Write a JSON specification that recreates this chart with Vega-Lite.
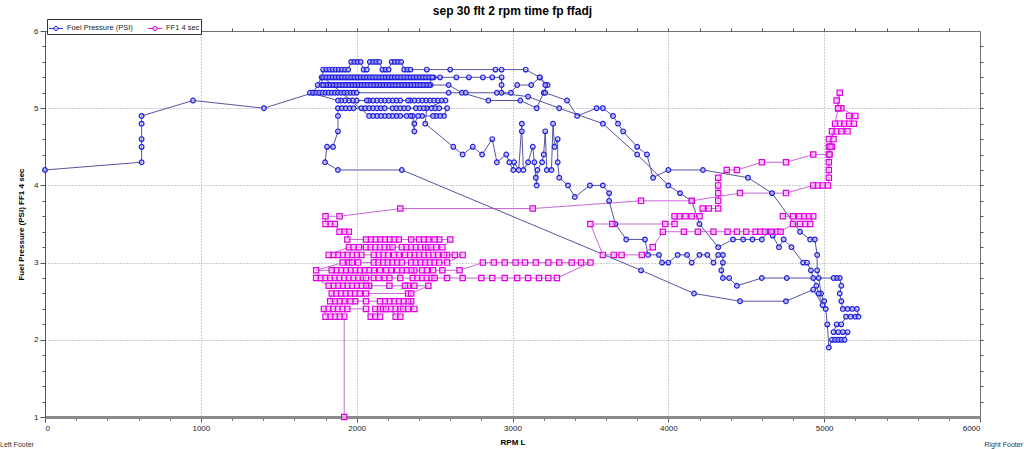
{
"$schema":"https://vega.github.io/schema/vega-lite/v6.json",
"width":935,"height":386,"autosize":"none",
"padding":{"left":45,"top":31,"right":44,"bottom":32},
"background":"white",
"config":{"font":"Liberation Sans","view":{"stroke":"#707070","strokeWidth":1}},
"title":{"text":"sep 30 flt 2 rpm  time fp ffadj","fontSize":12,"fontWeight":"bold","color":"#000","offset":1},
"datasets":{
"fp":[
{"x":0,"y":4.2},{"x":620,"y":4.3},{"x":620,"y":4.5},{"x":620,"y":4.6},{"x":620,"y":4.8},{"x":620,"y":4.9},{"x":950,"y":5.1},{"x":1405,"y":5.0},{"x":1720,"y":5.2},{"x":1750,"y":5.3},
{"x":1775,"y":5.4},{"x":1795,"y":5.4},{"x":1815,"y":5.4},{"x":1835,"y":5.4},{"x":1855,"y":5.4},{"x":1875,"y":5.4},{"x":1895,"y":5.4},{"x":1915,"y":5.4},{"x":1935,"y":5.4},{"x":1955,"y":5.4},{"x":1975,"y":5.4},{"x":1995,"y":5.4},{"x":2015,"y":5.4},{"x":2035,"y":5.4},{"x":2055,"y":5.4},{"x":2075,"y":5.4},{"x":2095,"y":5.4},{"x":2115,"y":5.4},{"x":2135,"y":5.4},{"x":2155,"y":5.4},{"x":2175,"y":5.4},{"x":2195,"y":5.4},{"x":2215,"y":5.4},{"x":2235,"y":5.4},{"x":2255,"y":5.4},{"x":2275,"y":5.4},{"x":2295,"y":5.4},{"x":2315,"y":5.4},{"x":2335,"y":5.4},{"x":2355,"y":5.4},{"x":2375,"y":5.4},{"x":2395,"y":5.4},{"x":2415,"y":5.4},{"x":2435,"y":5.4},{"x":2455,"y":5.4},{"x":2475,"y":5.4},{"x":2495,"y":5.4},
{"x":2535,"y":5.4},{"x":2640,"y":5.4},{"x":2720,"y":5.4},{"x":2810,"y":5.4},{"x":2870,"y":5.4},{"x":2930,"y":5.4},{"x":2930,"y":5.3},{"x":2930,"y":5.2},{"x":2990,"y":5.2},{"x":3030,"y":5.3},{"x":3120,"y":5.3},{"x":3175,"y":5.4},{"x":3225,"y":5.3},{"x":3200,"y":5.2},{"x":3155,"y":5.0},{"x":3050,"y":5.1},{"x":2845,"y":5.1},{"x":2675,"y":5.2},{"x":2590,"y":5.3},
{"x":2475,"y":5.3},{"x":2455,"y":5.3},{"x":2435,"y":5.3},{"x":2415,"y":5.3},{"x":2395,"y":5.3},{"x":2375,"y":5.3},{"x":2355,"y":5.3},{"x":2335,"y":5.3},{"x":2315,"y":5.3},{"x":2295,"y":5.3},{"x":2275,"y":5.3},{"x":2255,"y":5.3},{"x":2235,"y":5.3},{"x":2215,"y":5.3},{"x":2195,"y":5.3},{"x":2175,"y":5.3},{"x":2155,"y":5.3},{"x":2135,"y":5.3},{"x":2115,"y":5.3},{"x":2095,"y":5.3},{"x":2075,"y":5.3},{"x":2055,"y":5.3},{"x":2035,"y":5.3},{"x":2015,"y":5.3},{"x":1995,"y":5.3},{"x":1975,"y":5.3},{"x":1955,"y":5.3},{"x":1935,"y":5.3},{"x":1915,"y":5.3},{"x":1895,"y":5.3},{"x":1875,"y":5.3},{"x":1855,"y":5.3},{"x":1835,"y":5.3},{"x":1815,"y":5.3},{"x":1795,"y":5.3},{"x":1775,"y":5.3},
{"x":1785,"y":5.5},{"x":1805,"y":5.5},{"x":1825,"y":5.5},{"x":1845,"y":5.5},{"x":1865,"y":5.5},{"x":1885,"y":5.5},{"x":1905,"y":5.5},{"x":1925,"y":5.5},{"x":1945,"y":5.5},{"x":1965,"y":5.6},{"x":1985,"y":5.6},{"x":2005,"y":5.6},{"x":2025,"y":5.6},{"x":2045,"y":5.5},{"x":2065,"y":5.5},{"x":2085,"y":5.6},{"x":2105,"y":5.6},{"x":2125,"y":5.6},{"x":2145,"y":5.6},{"x":2165,"y":5.5},{"x":2185,"y":5.5},{"x":2205,"y":5.5},{"x":2225,"y":5.6},{"x":2245,"y":5.6},{"x":2265,"y":5.6},{"x":2285,"y":5.6},{"x":2305,"y":5.5},{"x":2325,"y":5.5},{"x":2345,"y":5.5},{"x":2450,"y":5.5},
{"x":2600,"y":5.5},{"x":2890,"y":5.5},{"x":2930,"y":5.5},{"x":3085,"y":5.5},{"x":3175,"y":5.4},{"x":3210,"y":5.3},{"x":3210,"y":5.2},{"x":3350,"y":5.1},{"x":3415,"y":4.9},{"x":3540,"y":5.0},{"x":3580,"y":5.0},{"x":3645,"y":4.9},{"x":3677,"y":4.8},{"x":3710,"y":4.7},{"x":3800,"y":4.5},{"x":3863,"y":4.4},{"x":3902,"y":4.1},{"x":4000,"y":4.2},{"x":4222,"y":4.2},{"x":4511,"y":4.1},{"x":4665,"y":3.9},{"x":4845,"y":3.4},{"x":4910,"y":3.3},{"x":4940,"y":3.3},{"x":4955,"y":3.1},{"x":4955,"y":2.9},{"x":4965,"y":2.8},{"x":4980,"y":2.6},{"x":5000,"y":2.5},{"x":5010,"y":2.4},{"x":5020,"y":2.2},{"x":5030,"y":1.9},
{"x":5050,"y":2.0},{"x":5070,"y":2.0},{"x":5090,"y":2.0},{"x":5110,"y":2.0},{"x":5130,"y":2.0},{"x":5150,"y":2.1},{"x":5120,"y":2.1},{"x":5090,"y":2.1},{"x":5060,"y":2.1},{"x":5080,"y":2.2},{"x":5110,"y":2.2},{"x":5140,"y":2.3},{"x":5170,"y":2.3},{"x":5200,"y":2.3},{"x":5220,"y":2.3},{"x":5210,"y":2.4},{"x":5180,"y":2.4},{"x":5150,"y":2.4},{"x":5120,"y":2.4},{"x":5110,"y":2.5},{"x":5100,"y":2.6},{"x":5110,"y":2.7},{"x":5100,"y":2.8},{"x":5080,"y":2.8},{"x":5060,"y":2.8},
{"x":4760,"y":2.8},{"x":4600,"y":2.8},{"x":4440,"y":2.7},{"x":4390,"y":2.8},{"x":4350,"y":2.8},{"x":4340,"y":2.9},{"x":4350,"y":3.0},{"x":4350,"y":3.1},{"x":4320,"y":3.1},{"x":4290,"y":3.0},{"x":4250,"y":3.1},{"x":4200,"y":3.1},{"x":4150,"y":3.0},{"x":4120,"y":3.1},{"x":4060,"y":3.1},{"x":4000,"y":3.0},{"x":3960,"y":3.0},{"x":3940,"y":3.1},{"x":3870,"y":3.1},{"x":3850,"y":3.3},{"x":3730,"y":3.3},{"x":3660,"y":3.5},{"x":3620,"y":3.8},{"x":3620,"y":3.9},{"x":3580,"y":4.0},{"x":3497,"y":4.0},{"x":3400,"y":3.85},{"x":3356,"y":4.0},
{"x":3300,"y":4.1},{"x":3290,"y":4.3},{"x":3290,"y":4.6},{"x":3270,"y":4.5},{"x":3260,"y":4.8},{"x":3250,"y":4.2},{"x":3220,"y":4.2},{"x":3210,"y":4.7},{"x":3200,"y":4.4},{"x":3190,"y":4.3},{"x":3160,"y":4.2},{"x":3155,"y":4.0},{"x":3150,"y":4.1},{"x":3140,"y":4.3},{"x":3130,"y":4.5},{"x":3100,"y":4.3},{"x":3070,"y":4.2},{"x":3060,"y":4.7},{"x":3060,"y":4.8},{"x":3040,"y":4.2},{"x":3010,"y":4.3},{"x":3005,"y":4.2},{"x":2980,"y":4.3},{"x":2960,"y":4.4},{"x":2900,"y":4.3},{"x":2870,"y":4.6},{"x":2805,"y":4.4},{"x":2745,"y":4.5},{"x":2680,"y":4.4},{"x":2620,"y":4.5},{"x":2440,"y":4.8},{"x":2450,"y":5.0},
{"x":2570,"y":5.1},{"x":2545,"y":5.1},{"x":2520,"y":5.1},{"x":2495,"y":5.1},{"x":2470,"y":5.1},{"x":2445,"y":5.1},{"x":2420,"y":5.1},{"x":2395,"y":5.1},{"x":2370,"y":5.1},{"x":2345,"y":5.1},{"x":2330,"y":5.1},{"x":2280,"y":5.1},{"x":2255,"y":5.1},{"x":2230,"y":5.1},{"x":2205,"y":5.1},{"x":2180,"y":5.1},{"x":2155,"y":5.1},{"x":2130,"y":5.1},{"x":2105,"y":5.1},{"x":2080,"y":5.1},{"x":2065,"y":5.1},{"x":2000,"y":5.1},{"x":1975,"y":5.1},{"x":1950,"y":5.1},{"x":1925,"y":5.1},{"x":1900,"y":5.1},{"x":1880,"y":5.1},
{"x":1700,"y":5.2},{"x":1720,"y":5.2},{"x":1740,"y":5.2},{"x":1760,"y":5.2},{"x":1780,"y":5.2},{"x":1800,"y":5.2},{"x":1820,"y":5.2},{"x":1840,"y":5.2},{"x":1860,"y":5.2},{"x":1880,"y":5.2},{"x":1900,"y":5.2},{"x":1920,"y":5.2},{"x":1940,"y":5.2},{"x":1960,"y":5.2},{"x":1980,"y":5.2},{"x":2000,"y":5.2},
{"x":2590,"y":5.2},{"x":2700,"y":5.2},{"x":2900,"y":5.2},{"x":3100,"y":5.15},{"x":3300,"y":5.0},{"x":3580,"y":4.8},{"x":3800,"y":4.4},{"x":4000,"y":4.0},{"x":4075,"y":3.9},{"x":4150,"y":3.8},{"x":4200,"y":3.5},{"x":4320,"y":3.2},{"x":4415,"y":3.3},{"x":4480,"y":3.3},{"x":4540,"y":3.3},{"x":4600,"y":3.3},{"x":4640,"y":3.4},{"x":4665,"y":3.4},{"x":4670,"y":3.35},{"x":4710,"y":3.2},{"x":4740,"y":3.3},{"x":4790,"y":3.2},{"x":4865,"y":3.0},{"x":4890,"y":3.0},{"x":4915,"y":2.9},{"x":4930,"y":2.8},{"x":4950,"y":2.7},{"x":4965,"y":2.6},{"x":4990,"y":2.45},
{"x":4930,"y":2.65},{"x":4755,"y":2.5},{"x":4460,"y":2.5},{"x":4165,"y":2.6},{"x":3825,"y":2.9},{"x":2290,"y":4.2},{"x":1880,"y":4.2},{"x":1797,"y":4.3},{"x":1810,"y":4.5},{"x":1848,"y":4.5},{"x":1880,"y":4.7},{"x":1880,"y":4.9},
{"x":1880,"y":5.0},{"x":1905,"y":5.0},{"x":1930,"y":5.0},{"x":1955,"y":5.0},{"x":1980,"y":5.0},{"x":2030,"y":5.0},{"x":2055,"y":5.0},{"x":2080,"y":5.0},{"x":2105,"y":5.0},{"x":2130,"y":5.0},{"x":2155,"y":5.0},{"x":2180,"y":5.0},{"x":2230,"y":5.0},{"x":2255,"y":5.0},{"x":2280,"y":5.0},{"x":2305,"y":5.0},{"x":2330,"y":5.0},{"x":2380,"y":5.0},{"x":2405,"y":5.0},{"x":2430,"y":5.0},{"x":2480,"y":5.0},{"x":2505,"y":5.0},{"x":2530,"y":5.0},{"x":2580,"y":5.0},
{"x":2560,"y":4.9},{"x":2535,"y":4.9},{"x":2510,"y":4.9},{"x":2490,"y":4.9},{"x":2420,"y":4.9},{"x":2395,"y":4.9},{"x":2370,"y":4.8},{"x":2370,"y":4.7},{"x":2360,"y":4.9},{"x":2345,"y":4.9},{"x":2320,"y":4.9},{"x":2280,"y":4.9},{"x":2255,"y":4.9},{"x":2230,"y":4.9},{"x":2205,"y":4.9},{"x":2180,"y":4.9},{"x":2155,"y":4.9},{"x":2130,"y":4.9},{"x":2105,"y":4.9},{"x":2080,"y":4.9},
{"x":1785,"y":5.4},{"x":1805,"y":5.4},{"x":1825,"y":5.4},{"x":1845,"y":5.4},{"x":1865,"y":5.4},{"x":1885,"y":5.4},{"x":1905,"y":5.4},{"x":1925,"y":5.4},{"x":1945,"y":5.4},{"x":1965,"y":5.4},{"x":1985,"y":5.4},{"x":2005,"y":5.4},{"x":2025,"y":5.4},{"x":2045,"y":5.4},{"x":2065,"y":5.4},{"x":2085,"y":5.4},{"x":2105,"y":5.4},{"x":2125,"y":5.4},{"x":2145,"y":5.4},{"x":2165,"y":5.4},{"x":2185,"y":5.4},{"x":2205,"y":5.4},{"x":2225,"y":5.4},{"x":2245,"y":5.4},{"x":2265,"y":5.4},{"x":2285,"y":5.4},{"x":2305,"y":5.4},{"x":2325,"y":5.4},{"x":2345,"y":5.4},{"x":2365,"y":5.4},{"x":2385,"y":5.4},{"x":2405,"y":5.4},{"x":2425,"y":5.4},{"x":2445,"y":5.4},{"x":2465,"y":5.4},{"x":2485,"y":5.4},
{"x":2465,"y":5.3},{"x":2445,"y":5.3},{"x":2425,"y":5.3},{"x":2405,"y":5.3},{"x":2385,"y":5.3},{"x":2365,"y":5.3},{"x":2345,"y":5.3},{"x":2325,"y":5.3},{"x":2305,"y":5.3},{"x":2285,"y":5.3},{"x":2265,"y":5.3},{"x":2245,"y":5.3},{"x":2225,"y":5.3},{"x":2205,"y":5.3},{"x":2185,"y":5.3},{"x":2165,"y":5.3},{"x":2145,"y":5.3},{"x":2125,"y":5.3},{"x":2105,"y":5.3},{"x":2085,"y":5.3},{"x":2065,"y":5.3},{"x":2045,"y":5.3},{"x":2025,"y":5.3},{"x":2005,"y":5.3},{"x":1985,"y":5.3},{"x":1965,"y":5.3},{"x":1945,"y":5.3},{"x":1925,"y":5.3},{"x":1905,"y":5.3},{"x":1885,"y":5.3},{"x":1865,"y":5.3},{"x":1845,"y":5.3},{"x":1825,"y":5.3},{"x":1805,"y":5.3},{"x":1785,"y":5.3}
],
"ff":[
{"x":1920,"y":1.0},{"x":1920,"y":2.3},{"x":1890,"y":2.3},{"x":1860,"y":2.3},{"x":1830,"y":2.3},{"x":1800,"y":2.3},
{"x":1790,"y":2.4},{"x":1820,"y":2.4},{"x":1850,"y":2.4},{"x":1880,"y":2.4},{"x":1910,"y":2.4},{"x":1940,"y":2.4},{"x":2060,"y":2.4},{"x":2090,"y":2.3},{"x":2120,"y":2.3},{"x":2150,"y":2.3},{"x":2120,"y":2.4},{"x":2150,"y":2.4},{"x":2170,"y":2.4},{"x":2190,"y":2.4},{"x":2220,"y":2.4},{"x":2250,"y":2.3},{"x":2280,"y":2.3},{"x":2250,"y":2.4},{"x":2280,"y":2.4},{"x":2300,"y":2.4},{"x":2330,"y":2.4},{"x":2370,"y":2.4},
{"x":2350,"y":2.5},{"x":2330,"y":2.5},{"x":2300,"y":2.5},{"x":2270,"y":2.5},{"x":2240,"y":2.5},{"x":2210,"y":2.5},{"x":2180,"y":2.5},{"x":2150,"y":2.5},{"x":2060,"y":2.5},{"x":1990,"y":2.5},{"x":1960,"y":2.5},{"x":1920,"y":2.5},{"x":1890,"y":2.5},{"x":1860,"y":2.5},{"x":1830,"y":2.5},
{"x":1840,"y":2.6},{"x":1870,"y":2.6},{"x":1900,"y":2.6},{"x":1930,"y":2.6},{"x":1960,"y":2.6},{"x":1990,"y":2.6},{"x":2020,"y":2.6},{"x":2060,"y":2.6},{"x":2330,"y":2.6},{"x":2350,"y":2.6},
{"x":2460,"y":2.7},{"x":2370,"y":2.7},{"x":2330,"y":2.7},{"x":2310,"y":2.7},{"x":2210,"y":2.7},{"x":2080,"y":2.7},{"x":2060,"y":2.7},{"x":2030,"y":2.7},{"x":2000,"y":2.7},{"x":1970,"y":2.7},{"x":1940,"y":2.7},{"x":1910,"y":2.7},{"x":1880,"y":2.7},{"x":1850,"y":2.7},{"x":1820,"y":2.7},
{"x":1740,"y":2.8},{"x":1770,"y":2.8},{"x":1800,"y":2.8},{"x":1830,"y":2.8},{"x":1860,"y":2.8},{"x":1890,"y":2.8},{"x":1920,"y":2.8},{"x":1950,"y":2.8},{"x":1980,"y":2.8},{"x":2010,"y":2.8},{"x":2040,"y":2.8},{"x":2060,"y":2.8},{"x":2110,"y":2.8},{"x":2140,"y":2.8},{"x":2180,"y":2.8},{"x":2210,"y":2.8},{"x":2280,"y":2.8},{"x":2360,"y":2.8},{"x":2390,"y":2.8},{"x":2420,"y":2.8},{"x":2450,"y":2.8},{"x":2480,"y":2.8},{"x":2500,"y":2.8},{"x":2580,"y":2.8},{"x":2680,"y":2.8},{"x":2800,"y":2.8},{"x":2870,"y":2.8},{"x":2950,"y":2.8},{"x":3030,"y":2.8},{"x":3100,"y":2.8},{"x":3170,"y":2.8},{"x":3230,"y":2.8},{"x":3285,"y":2.8},
{"x":3500,"y":3.0},{"x":3440,"y":3.0},{"x":3380,"y":3.0},{"x":3300,"y":3.0},{"x":3230,"y":3.0},{"x":3150,"y":3.0},{"x":3080,"y":3.0},{"x":3020,"y":3.0},{"x":2950,"y":3.0},{"x":2880,"y":3.0},{"x":2810,"y":3.0},{"x":2660,"y":2.9},{"x":2550,"y":2.9},
{"x":2490,"y":2.9},{"x":2450,"y":2.9},{"x":2420,"y":2.9},{"x":2370,"y":2.9},{"x":2350,"y":2.9},{"x":2320,"y":2.9},{"x":2290,"y":2.9},{"x":2260,"y":2.9},{"x":2220,"y":2.9},{"x":2190,"y":2.9},{"x":2150,"y":2.9},{"x":2110,"y":2.9},{"x":2080,"y":2.9},{"x":2050,"y":2.9},{"x":2020,"y":2.9},{"x":1990,"y":2.9},{"x":1960,"y":2.9},{"x":1930,"y":2.9},{"x":1900,"y":2.9},{"x":1870,"y":2.9},{"x":1840,"y":2.9},{"x":1740,"y":2.9},
{"x":1910,"y":3.0},{"x":1950,"y":3.0},{"x":1970,"y":3.0},{"x":2010,"y":3.0},{"x":2110,"y":3.0},{"x":2140,"y":3.0},{"x":2170,"y":3.0},{"x":2200,"y":3.0},{"x":2230,"y":3.0},{"x":2260,"y":3.0},{"x":2290,"y":3.0},{"x":2350,"y":3.0},{"x":2380,"y":3.0},{"x":2410,"y":3.0},{"x":2440,"y":3.0},{"x":2470,"y":3.0},{"x":2500,"y":3.0},{"x":2530,"y":3.0},{"x":2580,"y":3.0},
{"x":2680,"y":3.1},{"x":2630,"y":3.1},{"x":2580,"y":3.1},{"x":2560,"y":3.1},{"x":2520,"y":3.1},{"x":2490,"y":3.1},{"x":2460,"y":3.1},{"x":2430,"y":3.1},{"x":2400,"y":3.1},{"x":2370,"y":3.1},{"x":2340,"y":3.1},{"x":2310,"y":3.1},{"x":2270,"y":3.1},{"x":2240,"y":3.1},{"x":2200,"y":3.1},{"x":2170,"y":3.1},{"x":2140,"y":3.1},{"x":2110,"y":3.1},{"x":2030,"y":3.1},{"x":2000,"y":3.1},{"x":1970,"y":3.1},{"x":1940,"y":3.1},{"x":1910,"y":3.1},{"x":1880,"y":3.1},{"x":1850,"y":3.1},{"x":1820,"y":3.1},
{"x":1950,"y":3.2},{"x":1980,"y":3.2},{"x":2015,"y":3.2},{"x":2060,"y":3.2},{"x":2090,"y":3.2},{"x":2120,"y":3.2},{"x":2150,"y":3.2},{"x":2180,"y":3.2},{"x":2210,"y":3.2},{"x":2230,"y":3.2},{"x":2290,"y":3.2},{"x":2320,"y":3.2},{"x":2350,"y":3.2},{"x":2380,"y":3.2},{"x":2410,"y":3.2},{"x":2440,"y":3.2},{"x":2460,"y":3.2},{"x":2480,"y":3.2},{"x":2510,"y":3.2},{"x":2550,"y":3.2},
{"x":2600,"y":3.3},{"x":2530,"y":3.3},{"x":2500,"y":3.3},{"x":2460,"y":3.3},{"x":2430,"y":3.3},{"x":2400,"y":3.3},{"x":2350,"y":3.3},{"x":2270,"y":3.3},{"x":2240,"y":3.3},{"x":2210,"y":3.3},{"x":2180,"y":3.3},{"x":2150,"y":3.3},{"x":2120,"y":3.3},{"x":2090,"y":3.3},{"x":2060,"y":3.3},{"x":1940,"y":3.3},
{"x":1950,"y":3.4},{"x":1920,"y":3.4},{"x":1890,"y":3.4},{"x":1860,"y":3.5},{"x":1830,"y":3.5},{"x":1800,"y":3.5},{"x":1800,"y":3.6},{"x":1890,"y":3.6},
{"x":2280,"y":3.7},{"x":3130,"y":3.7},{"x":3825,"y":3.8},{"x":4150,"y":3.8},{"x":4460,"y":3.9},{"x":4755,"y":3.9},{"x":4930,"y":4.0},{"x":4960,"y":4.0},{"x":4990,"y":4.0},{"x":5025,"y":4.0},
{"x":5030,"y":4.1},{"x":5030,"y":4.2},{"x":5030,"y":4.3},{"x":5030,"y":4.4},{"x":5030,"y":4.5},{"x":5050,"y":4.5},{"x":5030,"y":4.6},{"x":5060,"y":4.6},{"x":5050,"y":4.7},{"x":5080,"y":4.7},{"x":5110,"y":4.7},{"x":5150,"y":4.7},{"x":5100,"y":4.8},{"x":5130,"y":4.8},{"x":5160,"y":4.8},{"x":5190,"y":4.8},{"x":5160,"y":4.9},{"x":5200,"y":4.9},{"x":5110,"y":5.0},{"x":5090,"y":5.0},{"x":5080,"y":5.1},{"x":5100,"y":5.2},{"x":5090,"y":5.0},{"x":5070,"y":4.8},{"x":5040,"y":4.5},{"x":5035,"y":4.4},
{"x":4930,"y":4.4},{"x":4755,"y":4.3},{"x":4600,"y":4.3},{"x":4440,"y":4.2},{"x":4375,"y":4.2},{"x":4320,"y":4.1},{"x":4320,"y":4.0},{"x":4320,"y":3.9},{"x":4320,"y":3.8},{"x":4320,"y":3.7},{"x":4260,"y":3.7},{"x":4220,"y":3.7},{"x":4200,"y":3.6},{"x":4150,"y":3.6},{"x":4110,"y":3.6},{"x":4070,"y":3.6},{"x":4040,"y":3.6},{"x":4040,"y":3.5},{"x":3980,"y":3.5},{"x":3640,"y":3.5},{"x":3500,"y":3.5},
{"x":3580,"y":3.1},{"x":3650,"y":3.1},{"x":3700,"y":3.1},{"x":3830,"y":3.1},{"x":3900,"y":3.2},{"x":3965,"y":3.4},{"x":4100,"y":3.4},{"x":4190,"y":3.4},{"x":4290,"y":3.4},{"x":4380,"y":3.4},{"x":4440,"y":3.4},{"x":4500,"y":3.4},{"x":4560,"y":3.4},{"x":4590,"y":3.4},{"x":4620,"y":3.4},{"x":4660,"y":3.4},{"x":4700,"y":3.4},{"x":4720,"y":3.4},{"x":4800,"y":3.5},{"x":4845,"y":3.5},{"x":4880,"y":3.5},{"x":4910,"y":3.5},{"x":4930,"y":3.6},{"x":4900,"y":3.6},{"x":4870,"y":3.6},{"x":4840,"y":3.6},{"x":4800,"y":3.6},{"x":4735,"y":3.6}
]
},
"resolve":{"axis":{"x":"independent","y":"independent"}},
"layer":[
{"data":{"values":[{"v":0}]},"mark":{"type":"point","opacity":0},
 "encoding":{
  "x":{"datum":0,"type":"quantitative","scale":{"domain":[0,6000],"nice":false,"zero":false},
   "axis":{"orient":"bottom","values":[0,200,400,600,800,1000,1200,1400,1600,1800,2000,2200,2400,2600,2800,3000,3200,3400,3600,3800,4000,4200,4400,4600,4800,5000,5200,5400,5600,5800,6000],
    "format":"d","labelExpr":"datum.value % 1000 === 0 ? datum.label : ''","labelFontSize":8,"labelColor":"#222","labelPadding":2,
    "tickColor":"#555","tickSize":{"condition":{"test":"datum.value % 1000 === 0","value":5},"value":3},
    "domainColor":"#8a8a8a","domainWidth":3,
    "grid":true,"gridColor":"#9a9a9a","gridDash":[1,2],"gridOpacity":{"condition":{"test":"datum.value % 1000 === 0 && datum.value > 0 && datum.value < 6000","value":1},"value":0},
    "title":"RPM L","titleFontSize":8,"titleFontWeight":"bold","titleColor":"#000","titlePadding":6}},
  "y":{"datum":1,"type":"quantitative","scale":{"domain":[1,6],"nice":false,"zero":false},
   "axis":{"orient":"left","values":[1,1.2,1.4,1.6,1.8,2,2.2,2.4,2.6,2.8,3,3.2,3.4,3.6,3.8,4,4.2,4.4,4.6,4.8,5,5.2,5.4,5.6,5.8,6],
    "labelExpr":"abs(datum.value - round(datum.value)) < 0.001 ? format(datum.value,'d') : ''","labelFontSize":8,"labelColor":"#222","labelPadding":2,
    "tickColor":"#555","tickSize":{"condition":{"test":"abs(datum.value - round(datum.value)) < 0.001","value":5},"value":3},
    "domainColor":"#555",
    "grid":true,"gridColor":"#9a9a9a","gridDash":[1,2],"gridOpacity":{"condition":{"test":"abs(datum.value - round(datum.value)) < 0.001 && datum.value > 1 && datum.value < 6","value":1},"value":0},
    "title":"Fuel Pressure (PSI) FF1 4 sec","titleFontSize":8,"titleFontWeight":"bold","titleColor":"#000","titlePadding":8}}}},
{"data":{"values":[{"v":0}]},"mark":{"type":"point","opacity":0},
 "encoding":{
  "x":{"datum":0,"type":"quantitative","axis":{"orient":"top","values":[200,400,600,800,1000,1200,1400,1600,1800,2000,2200,2400,2600,2800,3000,3200,3400,3600,3800,4000,4200,4400,4600,4800,5000,5200,5400,5600,5800],"labels":false,"domain":false,"grid":false,"tickSize":3,"tickColor":"#555","title":null}},
  "y":{"datum":1,"type":"quantitative","axis":{"orient":"right","values":[1.2,1.4,1.6,1.8,2,2.2,2.4,2.6,2.8,3,3.2,3.4,3.6,3.8,4,4.2,4.4,4.6,4.8,5,5.2,5.4,5.6,5.8],"labels":false,"domain":false,"grid":false,"tickSize":3,"tickColor":"#555","title":null}}}},
{"data":{"name":"ff"},"mark":{"type":"line","color":"#c868d8","strokeWidth":1},
 "encoding":{"x":{"field":"x","type":"quantitative","axis":null},"y":{"field":"y","type":"quantitative","axis":null},"order":{"value":null}}},
{"data":{"name":"fp"},"mark":{"type":"line","color":"#55559e","strokeWidth":1},
 "encoding":{"x":{"field":"x","type":"quantitative","axis":null},"y":{"field":"y","type":"quantitative","axis":null},"order":{"value":null}}},
{"data":{"name":"fp"},"mark":{"type":"point","shape":"circle","filled":false,"size":22,"strokeWidth":1.2,"fill":"#c8c8f0","fillOpacity":0.6},
 "encoding":{"x":{"field":"x","type":"quantitative","axis":null},"y":{"field":"y","type":"quantitative","axis":null},
  "color":{"datum":"Fuel Pressure (PSI)","type":"nominal",
   "scale":{"domain":["Fuel Pressure (PSI)","FF1 4 sec"],"range":["#2020e0","#e000e0"]},
   "legend":{"orient":"none","legendX":2,"legendY":-12,"direction":"horizontal","title":null,"labelFontSize":7.5,"labelColor":"#222","symbolType":"M-1,0L-0.3,0M0.3,0L1,0M0.3,0A0.3,0.3 0 1 1 -0.3,0A0.3,0.3 0 1 1 0.3,0","symbolSize":200,"symbolStrokeWidth":1,"strokeColor":"#333","fillColor":"white","padding":1,"columnPadding":12,"labelOffset":3,"labelLimit":200,"symbolFillColor":"white"}}}},
{"data":{"name":"ff"},"mark":{"type":"point","shape":"square","filled":false,"size":28,"strokeWidth":1.2,"fill":"#ffc8ff","fillOpacity":0.6},
 "encoding":{"x":{"field":"x","type":"quantitative","axis":null},"y":{"field":"y","type":"quantitative","axis":null},
  "color":{"datum":"FF1 4 sec","type":"nominal"}}},
{"data":{"values":[{"v":0}]},"mark":{"type":"text","align":"left","baseline":"bottom","fontSize":7,"color":"#333","dx":-45,"dy":31},
 "encoding":{"x":{"datum":0,"type":"quantitative","axis":null},"y":{"datum":1,"type":"quantitative","axis":null},"text":{"value":"Left Footer"}}},
{"data":{"values":[{"v":0}]},"mark":{"type":"text","align":"right","baseline":"bottom","fontSize":7,"color":"#333","dx":43,"dy":31},
 "encoding":{"x":{"datum":6000,"type":"quantitative","axis":null},"y":{"datum":1,"type":"quantitative","axis":null},"text":{"value":"Right Footer"}}}
]
}
